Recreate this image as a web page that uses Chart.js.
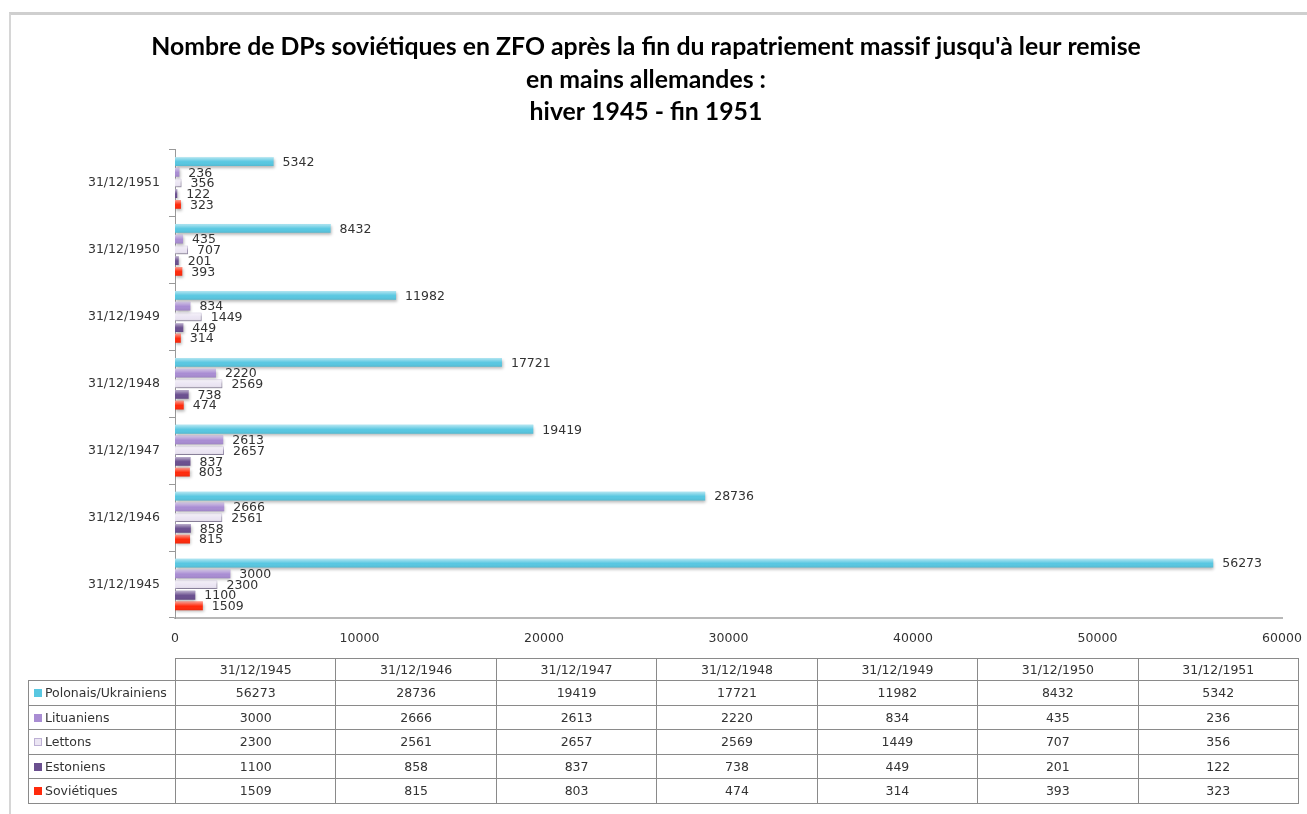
<!DOCTYPE html>
<html>
<head>
<meta charset="utf-8">
<script src="https://cdn.jsdelivr.net/npm/chart.js@4.4.0/dist/chart.umd.min.js"></script>
<style>
body { margin: 0; background: #fff; width: 1307px; height: 814px; overflow: hidden; position: relative; font-family: 'DejaVu Sans', sans-serif; }
#frame { position: absolute; left: 9px; top: 12px; right: 0; bottom: 0; border-top: 3px solid #cfcfcf; border-left: 2px solid #d6d6d6; }
#wrap { position: absolute; left: 0; top: 0; width: 1307px; height: 660px; }
#tbl { position: absolute; left: 28px; top: 658px; width: 1271px; border-collapse: collapse; table-layout: fixed; font-size: 12.5px; color: #333; }
#tbl td, #tbl th { border: 1px solid #8a8a8a; text-align: center; font-weight: normal; padding: 0; }
#tbl th.blank { border: none; }
#tbl td.name { text-align: left; padding-left: 5px; white-space: nowrap; }
.sw { display: inline-block; width: 8px; height: 8px; margin-right: 3px; box-sizing: border-box; }
</style>
</head>
<body>
<div id="frame"></div>
<div id="wrap"><canvas id="dpChart"></canvas></div>
<table id="tbl"></table>
<script>
const categories = ['31/12/1945', '31/12/1946', '31/12/1947', '31/12/1948', '31/12/1949', '31/12/1950', '31/12/1951'];
const seriesNames = ['Polonais/Ukrainiens', 'Lituaniens', 'Lettons', 'Estoniens', 'Soviétiques'];
const polonais = [56273, 28736, 19419, 17721, 11982, 8432, 5342];
const lituaniens = [3000, 2666, 2613, 2220, 834, 435, 236];
const lettons = [2300, 2561, 2657, 2569, 1449, 707, 356];
const estoniens = [1100, 858, 837, 738, 449, 201, 122];
const sovietiques = [1509, 815, 803, 474, 314, 393, 323];
const xMin = 0, xMax = 60000, xStep = 10000;

const titleLines = [
    "Nombre de DPs soviétiques en ZFO après la fin du rapatriement massif jusqu'à leur remise",
    'en mains allemandes :',
    'hiver 1945 - fin 1951'
];

const fills = ['#58c7e1', '#a98dd3', '#ebe5f3', '#6a4f8f', '#ff2a0c'];
const edges = ['#58c7e1', '#a98dd3', '#bdb0d4', '#6a4f8f', '#ff2a0c'];
const seriesData = [polonais, lituaniens, lettons, estoniens, sovietiques];
const smallFont = { family: 'DejaVu Sans', size: 12.5 };

// shadow under the bars, a light gloss on top, then the value labels
const glossPlugin = {
    id: 'gloss',
    beforeDatasetsDraw(chart) {
        const c = chart.ctx;
        c.save();
        c.shadowColor = 'rgba(0,0,0,0.28)';
        c.shadowBlur = 3;
        c.shadowOffsetX = 1;
        c.shadowOffsetY = 2;
    },
    afterDatasetsDraw(chart) {
        const c = chart.ctx;
        c.restore();
        c.save();
        chart.data.datasets.forEach((ds, i) => {
            chart.getDatasetMeta(i).data.forEach(bar => {
                const top = bar.y - bar.height / 2;
                const g = c.createLinearGradient(0, top, 0, top + bar.height);
                g.addColorStop(0, 'rgba(255,255,255,0.55)');
                g.addColorStop(0.45, 'rgba(255,255,255,0.08)');
                g.addColorStop(0.55, 'rgba(255,255,255,0)');
                g.addColorStop(1, 'rgba(0,0,0,0.08)');
                c.fillStyle = g;
                c.fillRect(bar.base, top, bar.x - bar.base, bar.height);
            });
        });
        c.font = '12.5px "DejaVu Sans"';
        c.fillStyle = '#333';
        c.textBaseline = 'middle';
        c.textAlign = 'left';
        chart.data.datasets.forEach((ds, i) => {
            chart.getDatasetMeta(i).data.forEach((bar, j) => {
                c.fillText(String(ds.data[j]), bar.x + 9, bar.y + 1);
            });
        });
        c.restore();
    }
};

const ctx = document.getElementById('dpChart').getContext('2d');
const dpChart = new Chart(ctx, {
    type: 'bar',
    data: {
        labels: categories,
        datasets: seriesNames.map((name, i) => ({
            label: name,
            data: seriesData[i],
            backgroundColor: fills[i],
            borderColor: edges[i],
            borderWidth: i === 2 ? 1 : 0,
            categoryPercentage: 0.8,
            barPercentage: 0.82
        }))
    },
    options: {
        indexAxis: 'y',
        responsive: true,
        maintainAspectRatio: false,
        animation: false,
        layout: { padding: { left: 10, right: 25, top: 0, bottom: 14 } },
        plugins: {
            legend: { display: false },
            tooltip: { enabled: false },
            title: {
                display: true,
                text: titleLines,
                color: '#000',
                font: { family: 'Lato', size: 24.8, weight: 'bold', lineHeight: 32.5 / 24.8 },
                padding: { top: 31, bottom: 21 }
            }
        },
        scales: {
            x: {
                min: xMin,
                max: xMax,
                ticks: { stepSize: xStep, callback: v => String(v), color: '#333', font: smallFont, padding: 13 },
                grid: { display: false, drawTicks: false },
                border: { color: '#b8b8b8', width: 2 },
                afterFit: s => { s.height = 28; s.paddingLeft = 0; s.paddingRight = 0; }
            },
            y: {
                reverse: true,
                ticks: { color: '#333', font: smallFont, padding: 9 },
                grid: { drawOnChartArea: false, tickLength: 6, color: '#999' },
                border: { color: '#999', width: 1 },
                afterFit: s => { s.width = 165; }
            }
        }
    },
    plugins: [glossPlugin]
});

// data table under the chart
const tbl = document.getElementById('tbl');
let html = '<colgroup><col style="width:147px">' + categories.map(() => '<col>').join('') + '</colgroup>';
html += '<tr style="height:22px"><th class="blank"></th>' + categories.map(c => '<th>' + c + '</th>').join('') + '</tr>';
seriesNames.forEach((name, i) => {
    const sw = '<span class="sw" style="background:' + fills[i] + (i === 2 ? ';border:1px solid ' + edges[i] : '') + '"></span>';
    html += '<tr style="height:24.5px"><td class="name">' + sw + name + '</td>' +
        seriesData[i].map(v => '<td>' + v + '</td>').join('') + '</tr>';
});
tbl.innerHTML = html;
</script>
</body>
</html>
